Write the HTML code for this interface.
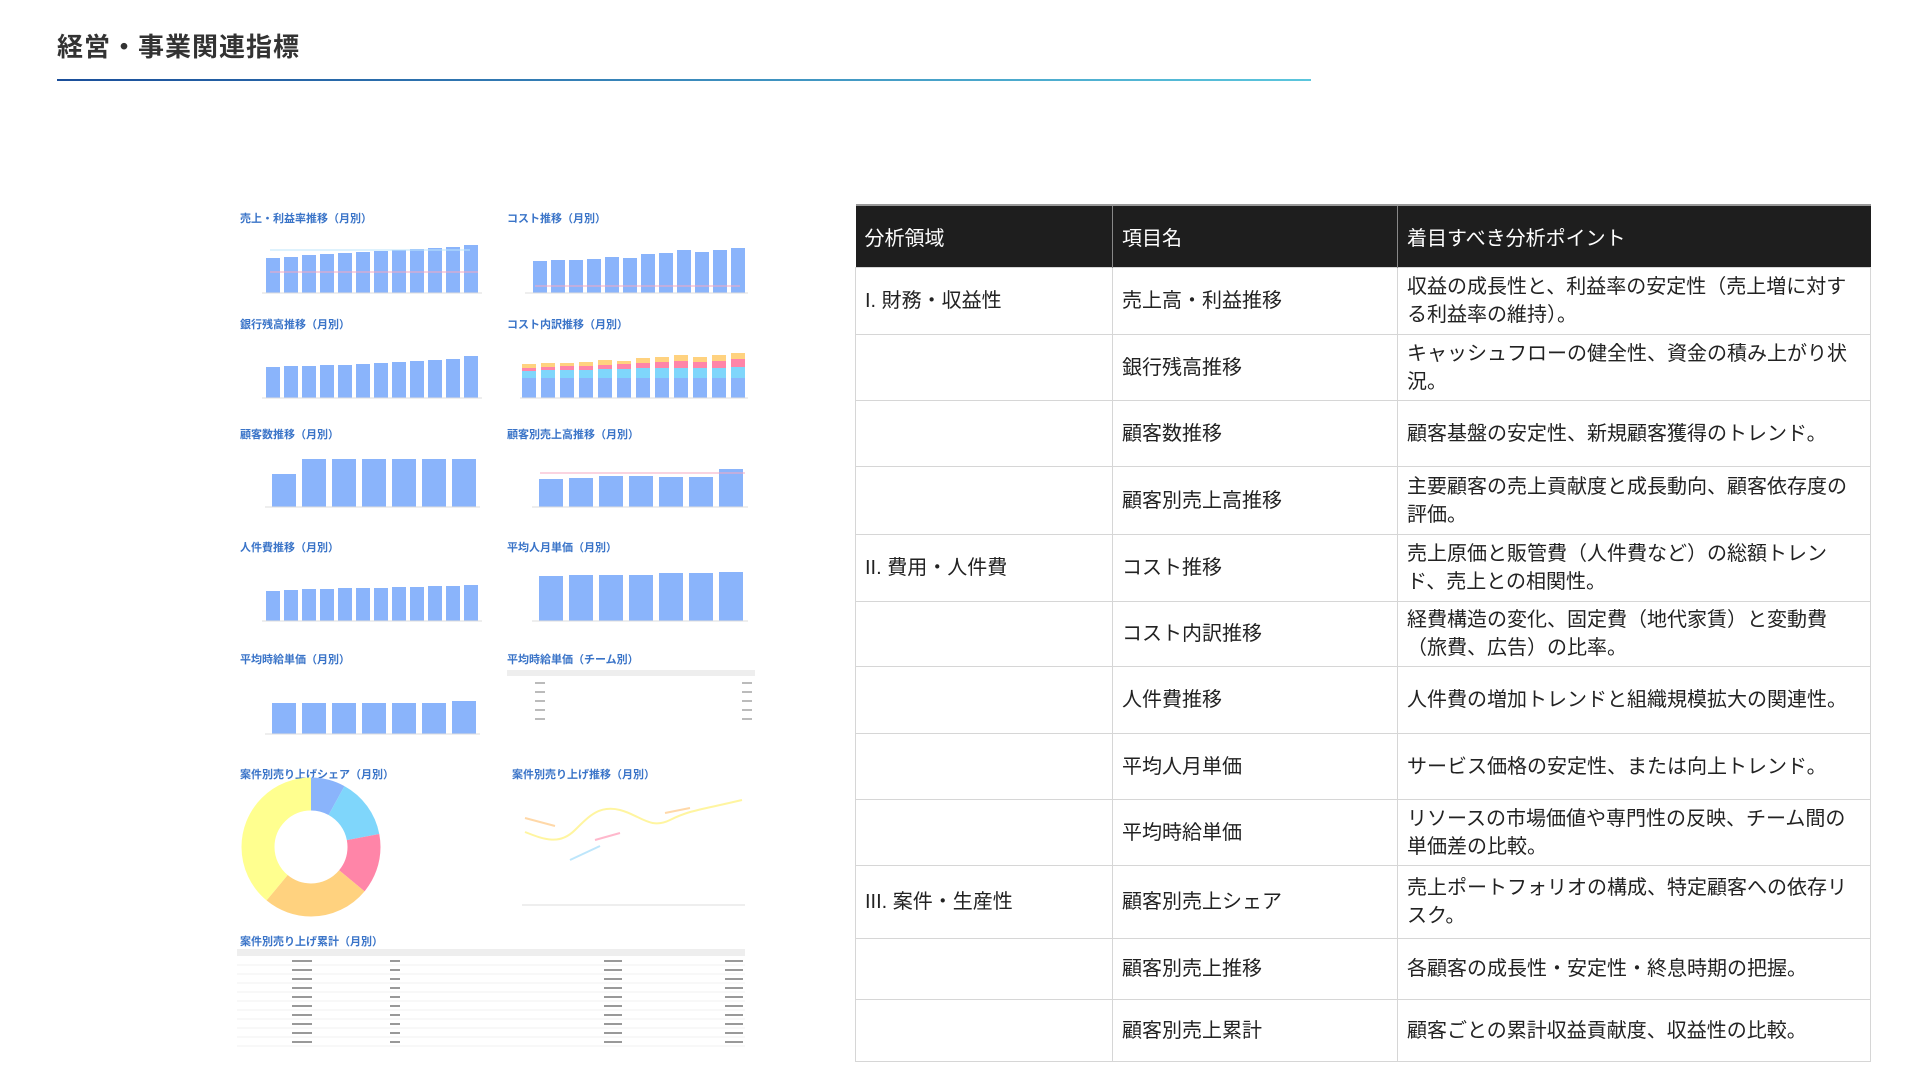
<!DOCTYPE html>
<html><head><meta charset="utf-8"><style>
body{margin:0;width:1920px;height:1080px;background:#fff;position:relative;overflow:hidden;font-family:"Liberation Sans","Noto Sans CJK JP",sans-serif;}
.title{position:absolute;left:57px;top:27px;font-size:26px;font-weight:bold;color:#333;letter-spacing:1px}
.line{position:absolute;left:57px;top:79px;width:1254px;height:2px;background:linear-gradient(90deg,#1a4e9a,#5bc6dd)}
table{position:absolute;left:855px;top:204px;width:1016px;border-collapse:collapse;font-size:20px;color:#222}
th{background:#1e1e1e;color:#fff;font-weight:normal;text-align:left;height:61px;padding:0 9px;border-left:1px solid #888;border-top:2px solid #999}
td{border:1px solid #d6d6d6;padding:0 9px;line-height:28px}
svg{position:absolute;left:0;top:0}
</style></head><body>
<div class="title">経営・事業関連指標</div>
<div class="line"></div>
<svg width="780" height="1080" font-family="Liberation Sans,Noto Sans CJK JP,sans-serif">
<g font-size="11" font-weight="bold" fill="#3a74c8">
<text x="240" y="222">売上・利益率推移（月別）</text><text x="507" y="222">コスト推移（月別）</text>
<text x="240" y="328">銀行残高推移（月別）</text><text x="507" y="328">コスト内訳推移（月別）</text>
<text x="240" y="438">顧客数推移（月別）</text><text x="507" y="438">顧客別売上高推移（月別）</text>
<text x="240" y="551">人件費推移（月別）</text><text x="507" y="551">平均人月単価（月別）</text>
<text x="240" y="663">平均時給単価（月別）</text><text x="507" y="663">平均時給単価（チーム別）</text>
<text x="240" y="778">案件別売り上げシェア（月別）</text><text x="512" y="778">案件別売り上げ推移（月別）</text>
<text x="240" y="945">案件別売り上げ累計（月別）</text>
</g>
<g fill="#8ab4fb">
<rect x="266" y="258" width="14" height="35"/><rect x="284" y="257" width="14" height="36"/><rect x="302" y="255" width="14" height="38"/><rect x="320" y="254" width="14" height="39"/><rect x="338" y="253" width="14" height="40"/><rect x="356" y="252" width="14" height="41"/><rect x="374" y="251" width="14" height="42"/><rect x="392" y="250" width="14" height="43"/><rect x="410" y="249" width="14" height="44"/><rect x="428" y="248" width="14" height="45"/><rect x="446" y="247" width="14" height="46"/><rect x="464" y="245" width="14" height="48"/>
<rect x="533" y="261" width="14" height="32"/><rect x="551" y="260" width="14" height="33"/><rect x="569" y="260" width="14" height="33"/><rect x="587" y="259" width="14" height="34"/><rect x="605" y="257" width="14" height="36"/><rect x="623" y="258" width="14" height="35"/><rect x="641" y="254" width="14" height="39"/><rect x="659" y="253" width="14" height="40"/><rect x="677" y="250" width="14" height="43"/><rect x="695" y="252" width="14" height="41"/><rect x="713" y="250" width="14" height="43"/><rect x="731" y="248" width="14" height="45"/>
<rect x="266" y="367" width="14" height="31"/><rect x="284" y="366" width="14" height="32"/><rect x="302" y="366" width="14" height="32"/><rect x="320" y="365" width="14" height="33"/><rect x="338" y="365" width="14" height="33"/><rect x="356" y="364" width="14" height="34"/><rect x="374" y="363" width="14" height="35"/><rect x="392" y="362" width="14" height="36"/><rect x="410" y="361" width="14" height="37"/><rect x="428" y="360" width="14" height="38"/><rect x="446" y="359" width="14" height="39"/><rect x="464" y="356" width="14" height="42"/>
<rect x="272" y="474" width="24" height="33"/><rect x="302" y="459" width="24" height="48"/><rect x="332" y="459" width="24" height="48"/><rect x="362" y="459" width="24" height="48"/><rect x="392" y="459" width="24" height="48"/><rect x="422" y="459" width="24" height="48"/><rect x="452" y="459" width="24" height="48"/>
<rect x="539" y="479" width="24" height="28"/><rect x="569" y="478" width="24" height="29"/><rect x="599" y="476" width="24" height="31"/><rect x="629" y="476" width="24" height="31"/><rect x="659" y="477" width="24" height="30"/><rect x="689" y="477" width="24" height="30"/><rect x="719" y="469" width="24" height="38"/>
<rect x="266" y="591" width="14" height="30"/><rect x="284" y="590" width="14" height="31"/><rect x="302" y="589" width="14" height="32"/><rect x="320" y="589" width="14" height="32"/><rect x="338" y="588" width="14" height="33"/><rect x="356" y="588" width="14" height="33"/><rect x="374" y="588" width="14" height="33"/><rect x="392" y="587" width="14" height="34"/><rect x="410" y="587" width="14" height="34"/><rect x="428" y="586" width="14" height="35"/><rect x="446" y="586" width="14" height="35"/><rect x="464" y="585" width="14" height="36"/>
<rect x="539" y="576" width="24" height="45"/><rect x="569" y="575" width="24" height="46"/><rect x="599" y="575" width="24" height="46"/><rect x="629" y="575" width="24" height="46"/><rect x="659" y="573" width="24" height="48"/><rect x="689" y="573" width="24" height="48"/><rect x="719" y="572" width="24" height="49"/>
<rect x="272" y="703" width="24" height="31"/><rect x="302" y="703" width="24" height="31"/><rect x="332" y="703" width="24" height="31"/><rect x="362" y="703" width="24" height="31"/><rect x="392" y="703" width="24" height="31"/><rect x="422" y="703" width="24" height="31"/><rect x="452" y="701" width="24" height="33"/>
<rect x="522" y="378" width="14" height="20"/><rect x="541" y="378" width="14" height="20"/><rect x="560" y="378" width="14" height="20"/><rect x="579" y="378" width="14" height="20"/><rect x="598" y="378" width="14" height="20"/><rect x="617" y="378" width="14" height="20"/><rect x="636" y="378" width="14" height="20"/><rect x="655" y="378" width="14" height="20"/><rect x="674" y="378" width="14" height="20"/><rect x="693" y="378" width="14" height="20"/><rect x="712" y="378" width="14" height="20"/><rect x="731" y="378" width="14" height="20"/>
</g>
<g fill="#7fd6fb"><rect x="522" y="371" width="14" height="7"/><rect x="541" y="370" width="14" height="8"/><rect x="560" y="370" width="14" height="8"/><rect x="579" y="370" width="14" height="8"/><rect x="598" y="369" width="14" height="9"/><rect x="617" y="369" width="14" height="9"/><rect x="636" y="368" width="14" height="10"/><rect x="655" y="368" width="14" height="10"/><rect x="674" y="368" width="14" height="10"/><rect x="693" y="368" width="14" height="10"/><rect x="712" y="368" width="14" height="10"/><rect x="731" y="367" width="14" height="11"/></g>
<g fill="#ff85a8"><rect x="522" y="368" width="14" height="3"/><rect x="541" y="367" width="14" height="3"/><rect x="560" y="366" width="14" height="4"/><rect x="579" y="366" width="14" height="4"/><rect x="598" y="365" width="14" height="4"/><rect x="617" y="364" width="14" height="5"/><rect x="636" y="363" width="14" height="5"/><rect x="655" y="362" width="14" height="6"/><rect x="674" y="361" width="14" height="7"/><rect x="693" y="362" width="14" height="6"/><rect x="712" y="361" width="14" height="7"/><rect x="731" y="359" width="14" height="8"/></g>
<g fill="#ffd27f"><rect x="522" y="364" width="14" height="4"/><rect x="541" y="363" width="14" height="4"/><rect x="560" y="363" width="14" height="3"/><rect x="579" y="362" width="14" height="4"/><rect x="598" y="360" width="14" height="5"/><rect x="617" y="361" width="14" height="3"/><rect x="636" y="358" width="14" height="5"/><rect x="655" y="357" width="14" height="5"/><rect x="674" y="355" width="14" height="6"/><rect x="693" y="357" width="14" height="5"/><rect x="712" y="355" width="14" height="6"/><rect x="731" y="353" width="14" height="6"/></g>
<g stroke="#ddd" stroke-width="1">
<line x1="262" y1="293" x2="482" y2="293"/><line x1="525" y1="293" x2="748" y2="293"/><line x1="262" y1="398" x2="482" y2="398"/><line x1="520" y1="398" x2="748" y2="398"/><line x1="265" y1="507" x2="480" y2="507"/><line x1="532" y1="507" x2="748" y2="507"/><line x1="262" y1="621" x2="482" y2="621"/><line x1="532" y1="621" x2="748" y2="621"/><line x1="265" y1="734" x2="480" y2="734"/>
<line x1="522" y1="905" x2="745" y2="905"/></g>
<line x1="270" y1="272" x2="478" y2="272" stroke="#f7a8c0"/><line x1="270" y1="250" x2="470" y2="250" stroke="#bde6fb"/>
<line x1="535" y1="286" x2="740" y2="286" stroke="#f7a8c0"/><line x1="540" y1="473" x2="745" y2="473" stroke="#f7a8c0"/>
<rect x="507" y="670" width="248" height="6" fill="#eee"/>
<g fill="#bbb"><rect x="535" y="682" width="10" height="2"/><rect x="535" y="691" width="10" height="2"/><rect x="535" y="700" width="10" height="2"/><rect x="535" y="709" width="10" height="2"/><rect x="535" y="718" width="10" height="2"/><rect x="742" y="682" width="10" height="2"/><rect x="742" y="691" width="10" height="2"/><rect x="742" y="700" width="10" height="2"/><rect x="742" y="709" width="10" height="2"/><rect x="742" y="718" width="10" height="2"/></g>
<g transform="rotate(-90 311 847)" fill="none" stroke-width="33">
<circle cx="311" cy="847" r="53" stroke="#8ab4fb" stroke-dasharray="26.6 333"/>
<circle cx="311" cy="847" r="53" stroke="#7fd6fb" stroke-dasharray="0 26.6 46.6 333"/>
<circle cx="311" cy="847" r="53" stroke="#ff85a8" stroke-dasharray="0 73.2 46.6 333"/>
<circle cx="311" cy="847" r="53" stroke="#ffd27f" stroke-dasharray="0 119.8 83.3 333"/>
<circle cx="311" cy="847" r="53" stroke="#ffff8f" stroke-dasharray="0 203.1 130 333"/>
</g>
<path d="M525 832 C545 840,560 845,575 830 S600 805,620 810 S650 830,670 820 S700 810,742 800" stroke="#fff5a0" stroke-width="2" fill="none"/>
<path d="M525 818 L555 826 M665 813 L690 808" stroke="#ffd8a8" stroke-width="2"/>
<path d="M595 840 L620 833" stroke="#ffb8cc" stroke-width="2"/><path d="M570 860 L600 846" stroke="#bde6fb" stroke-width="2"/>
<rect x="237" y="949" width="508" height="7" fill="#eee"/>
<g stroke="#f0f0f0"><line x1="237" y1="965" x2="745" y2="965"/><line x1="237" y1="974" x2="745" y2="974"/><line x1="237" y1="983" x2="745" y2="983"/><line x1="237" y1="992" x2="745" y2="992"/><line x1="237" y1="1001" x2="745" y2="1001"/><line x1="237" y1="1010" x2="745" y2="1010"/><line x1="237" y1="1019" x2="745" y2="1019"/><line x1="237" y1="1028" x2="745" y2="1028"/><line x1="237" y1="1037" x2="745" y2="1037"/><line x1="237" y1="1046" x2="745" y2="1046"/></g>
<g fill="#999"><rect x="292" y="960" width="20" height="2"/><rect x="292" y="969" width="20" height="2"/><rect x="292" y="978" width="20" height="2"/><rect x="292" y="987" width="20" height="2"/><rect x="292" y="996" width="20" height="2"/><rect x="292" y="1005" width="20" height="2"/><rect x="292" y="1014" width="20" height="2"/><rect x="292" y="1023" width="20" height="2"/><rect x="292" y="1032" width="20" height="2"/><rect x="292" y="1041" width="20" height="2"/>
<rect x="390" y="960" width="10" height="2"/><rect x="390" y="969" width="10" height="2"/><rect x="390" y="978" width="10" height="2"/><rect x="390" y="987" width="10" height="2"/><rect x="390" y="996" width="10" height="2"/><rect x="390" y="1005" width="10" height="2"/><rect x="390" y="1014" width="10" height="2"/><rect x="390" y="1023" width="10" height="2"/><rect x="390" y="1032" width="10" height="2"/><rect x="390" y="1041" width="10" height="2"/>
<rect x="604" y="960" width="18" height="2"/><rect x="604" y="969" width="18" height="2"/><rect x="604" y="978" width="18" height="2"/><rect x="604" y="987" width="18" height="2"/><rect x="604" y="996" width="18" height="2"/><rect x="604" y="1005" width="18" height="2"/><rect x="604" y="1014" width="18" height="2"/><rect x="604" y="1023" width="18" height="2"/><rect x="604" y="1032" width="18" height="2"/><rect x="604" y="1041" width="18" height="2"/>
<rect x="725" y="960" width="18" height="2"/><rect x="725" y="969" width="18" height="2"/><rect x="725" y="978" width="18" height="2"/><rect x="725" y="987" width="18" height="2"/><rect x="725" y="996" width="18" height="2"/><rect x="725" y="1005" width="18" height="2"/><rect x="725" y="1014" width="18" height="2"/><rect x="725" y="1023" width="18" height="2"/><rect x="725" y="1032" width="18" height="2"/><rect x="725" y="1041" width="18" height="2"/></g>
</svg>
<table>
<colgroup><col style="width:257px"><col style="width:285px"><col></colgroup>
<tr><th style="border-left:none">分析領域</th><th>項目名</th><th>着目すべき分析ポイント</th></tr>
<tr style="height:67px"><td>I. 財務・収益性</td><td>売上高・利益推移</td><td>収益の成長性と、利益率の安定性（売上増に対する利益率の維持）。</td></tr>
<tr style="height:66px"><td></td><td>銀行残高推移</td><td>キャッシュフローの健全性、資金の積み上がり状況。</td></tr>
<tr style="height:66px"><td></td><td>顧客数推移</td><td>顧客基盤の安定性、新規顧客獲得のトレンド。</td></tr>
<tr style="height:68px"><td></td><td>顧客別売上高推移</td><td>主要顧客の売上貢献度と成長動向、顧客依存度の評価。</td></tr>
<tr style="height:67px"><td>II. 費用・人件費</td><td>コスト推移</td><td>売上原価と販管費（人件費など）の総額トレンド、売上との相関性。</td></tr>
<tr style="height:65px"><td></td><td>コスト内訳推移</td><td>経費構造の変化、固定費（地代家賃）と変動費（旅費、広告）の比率。</td></tr>
<tr style="height:67px"><td></td><td>人件費推移</td><td>人件費の増加トレンドと組織規模拡大の関連性。</td></tr>
<tr style="height:66px"><td></td><td>平均人月単価</td><td>サービス価格の安定性、または向上トレンド。</td></tr>
<tr style="height:66px"><td></td><td>平均時給単価</td><td>リソースの市場価値や専門性の反映、チーム間の単価差の比較。</td></tr>
<tr style="height:73px"><td>III. 案件・生産性</td><td>顧客別売上シェア</td><td>売上ポートフォリオの構成、特定顧客への依存リスク。</td></tr>
<tr style="height:61px"><td></td><td>顧客別売上推移</td><td>各顧客の成長性・安定性・終息時期の把握。</td></tr>
<tr style="height:62px"><td></td><td>顧客別売上累計</td><td>顧客ごとの累計収益貢献度、収益性の比較。</td></tr>
</table>
</body></html>
